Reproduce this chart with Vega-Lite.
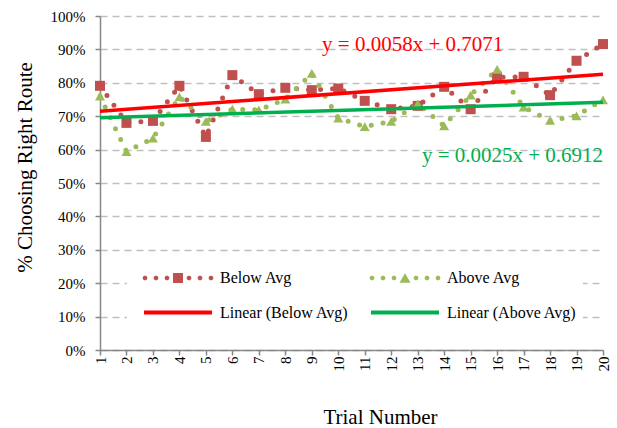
{
  "$schema": "https://vega.github.io/schema/vega-lite/v6.json",
  "width": 503,
  "height": 334,
  "autosize": "none",
  "padding": {"left": 100, "top": 16, "right": 14, "bottom": 78},
  "background": "white",
  "config": {"view": {"stroke": null}, "font": "Liberation Serif"},
  "datasets": {
    "obs": [
      {"trial": 1, "series": "Below Avg", "trend": "Linear (Below Avg)", "value": 0.791},
      {"trial": 2, "series": "Below Avg", "trend": "Linear (Below Avg)", "value": 0.680},
      {"trial": 3, "series": "Below Avg", "trend": "Linear (Below Avg)", "value": 0.686},
      {"trial": 4, "series": "Below Avg", "trend": "Linear (Below Avg)", "value": 0.791},
      {"trial": 5, "series": "Below Avg", "trend": "Linear (Below Avg)", "value": 0.638},
      {"trial": 6, "series": "Below Avg", "trend": "Linear (Below Avg)", "value": 0.823},
      {"trial": 7, "series": "Below Avg", "trend": "Linear (Below Avg)", "value": 0.766},
      {"trial": 8, "series": "Below Avg", "trend": "Linear (Below Avg)", "value": 0.785},
      {"trial": 9, "series": "Below Avg", "trend": "Linear (Below Avg)", "value": 0.778},
      {"trial": 10, "series": "Below Avg", "trend": "Linear (Below Avg)", "value": 0.783},
      {"trial": 11, "series": "Below Avg", "trend": "Linear (Below Avg)", "value": 0.746},
      {"trial": 12, "series": "Below Avg", "trend": "Linear (Below Avg)", "value": 0.721},
      {"trial": 13, "series": "Below Avg", "trend": "Linear (Below Avg)", "value": 0.731},
      {"trial": 14, "series": "Below Avg", "trend": "Linear (Below Avg)", "value": 0.788},
      {"trial": 15, "series": "Below Avg", "trend": "Linear (Below Avg)", "value": 0.721},
      {"trial": 16, "series": "Below Avg", "trend": "Linear (Below Avg)", "value": 0.816},
      {"trial": 17, "series": "Below Avg", "trend": "Linear (Below Avg)", "value": 0.818},
      {"trial": 18, "series": "Below Avg", "trend": "Linear (Below Avg)", "value": 0.763},
      {"trial": 19, "series": "Below Avg", "trend": "Linear (Below Avg)", "value": 0.866},
      {"trial": 20, "series": "Below Avg", "trend": "Linear (Below Avg)", "value": 0.916},
      {"trial": 1, "series": "Above Avg", "trend": "Linear (Above Avg)", "value": 0.760},
      {"trial": 2, "series": "Above Avg", "trend": "Linear (Above Avg)", "value": 0.594},
      {"trial": 3, "series": "Above Avg", "trend": "Linear (Above Avg)", "value": 0.634},
      {"trial": 4, "series": "Above Avg", "trend": "Linear (Above Avg)", "value": 0.758},
      {"trial": 5, "series": "Above Avg", "trend": "Linear (Above Avg)", "value": 0.684},
      {"trial": 6, "series": "Above Avg", "trend": "Linear (Above Avg)", "value": 0.721},
      {"trial": 7, "series": "Above Avg", "trend": "Linear (Above Avg)", "value": 0.719},
      {"trial": 8, "series": "Above Avg", "trend": "Linear (Above Avg)", "value": 0.751},
      {"trial": 9, "series": "Above Avg", "trend": "Linear (Above Avg)", "value": 0.828},
      {"trial": 10, "series": "Above Avg", "trend": "Linear (Above Avg)", "value": 0.694},
      {"trial": 11, "series": "Above Avg", "trend": "Linear (Above Avg)", "value": 0.669},
      {"trial": 12, "series": "Above Avg", "trend": "Linear (Above Avg)", "value": 0.684},
      {"trial": 13, "series": "Above Avg", "trend": "Linear (Above Avg)", "value": 0.737},
      {"trial": 14, "series": "Above Avg", "trend": "Linear (Above Avg)", "value": 0.671},
      {"trial": 15, "series": "Above Avg", "trend": "Linear (Above Avg)", "value": 0.763},
      {"trial": 16, "series": "Above Avg", "trend": "Linear (Above Avg)", "value": 0.840},
      {"trial": 17, "series": "Above Avg", "trend": "Linear (Above Avg)", "value": 0.727},
      {"trial": 18, "series": "Above Avg", "trend": "Linear (Above Avg)", "value": 0.687},
      {"trial": 19, "series": "Above Avg", "trend": "Linear (Above Avg)", "value": 0.701},
      {"trial": 20, "series": "Above Avg", "trend": "Linear (Above Avg)", "value": 0.749}
    ],
    "eq": [
      {"trial": 9.39, "value": 0.895, "trend": "Linear (Below Avg)", "label": "y = 0.0058x + 0.7071"},
      {"trial": 13.16, "value": 0.563, "trend": "Linear (Above Avg)", "label": "y = 0.0025x + 0.6912"}
    ]
  },
  "encoding": {
    "x": {"field": "trial", "type": "quantitative",
      "scale": {"domain": [1, 20], "nice": false, "zero": false},
      "axis": {"values": [1,2,3,4,5,6,7,8,9,10,11,12,13,14,15,16,17,18,19,20], "title": "Trial Number",
        "labelAngle": 270, "labelFontSize": 15, "labelColor": "#000000", "labelFont": "Liberation Serif",
        "labelPadding": 1, "tickSize": 5, "tickColor": "#868686", "tickWidth": 1.5,
        "domainColor": "#868686", "domainWidth": 1.5, "grid": false,
        "titleFont": "Liberation Serif", "titleFontSize": 21, "titleFontWeight": "normal", "titleColor": "#000000",
        "titleX": 280, "titleY": 73, "titleBaseline": "alphabetic", "titleAlign": "center"}},
    "y": {"field": "value", "type": "quantitative",
      "scale": {"domain": [0, 1], "nice": false},
      "axis": {"values": [0,0.1,0.2,0.3,0.4,0.5,0.6,0.7,0.8,0.9,1], "format": ".0%", "title": "% Choosing Right Route",
        "labelFontSize": 15, "labelColor": "#000000", "labelFont": "Liberation Serif", "labelPadding": 10,
        "tickSize": 5, "tickColor": "#868686", "tickWidth": 1.5,
        "domainColor": "#868686", "domainWidth": 1.5,
        "grid": true, "gridDash": [7, 5], "gridColor": "#BFBFBF", "gridWidth": 1.5,
        "titleFont": "Liberation Serif", "titleFontSize": 21, "titleFontWeight": "normal", "titleColor": "#000000",
        "titleX": -75, "titleY": 151, "titleAngle": 270, "titleBaseline": "middle", "titleAlign": "center"}}
  },
  "layer": [
    {
      "data": {"name": "obs"},
      "mark": {"type": "point", "filled": true, "opacity": 0, "size": 100, "strokeWidth": 0},
      "encoding": {
        "color": {"field": "series", "type": "nominal",
          "scale": {"domain": ["Below Avg", "Above Avg", "Linear (Below Avg)", "Linear (Above Avg)"],
                    "range": ["#C0504D", "#9BBB59", "#FF0000", "#00B050"]},
          "legend": {"title": null, "orient": "none", "direction": "horizontal", "legendX": 27, "legendY": 248, "columns": 2,
            "columnPadding": 11, "rowPadding": 18.6, "padding": 6, "fillColor": "#FFFFFF",
            "labelFont": "Liberation Serif", "labelFontSize": 16, "labelColor": "#000000", "labelLimit": 0,
            "symbolSize": 100, "symbolStrokeWidth": 0, "symbolOpacity": 1, "symbolOffset": 37, "labelOffset": 34}},
        "shape": {"field": "series", "type": "nominal",
          "scale": {"domain": ["Below Avg", "Above Avg", "Linear (Below Avg)", "Linear (Above Avg)"],
                    "range": [
                      "M-7.05,-0.19L-6.79,-0.45L-6.41,-0.45L-6.15,-0.19L-6.15,0.19L-6.41,0.45L-6.79,0.45L-7.05,0.19ZM-4.85,-0.19L-4.59,-0.45L-4.21,-0.45L-3.95,-0.19L-3.95,0.19L-4.21,0.45L-4.59,0.45L-4.85,0.19ZM-2.65,-0.19L-2.39,-0.45L-2.01,-0.45L-1.75,-0.19L-1.75,0.19L-2.01,0.45L-2.39,0.45L-2.65,0.19ZM-1,-1L1,-1L1,1L-1,1ZM1.75,-0.19L2.01,-0.45L2.39,-0.45L2.65,-0.19L2.65,0.19L2.39,0.45L2.01,0.45L1.75,0.19ZM3.95,-0.19L4.21,-0.45L4.59,-0.45L4.85,-0.19L4.85,0.19L4.59,0.45L4.21,0.45L3.95,0.19ZM6.15,-0.19L6.41,-0.45L6.79,-0.45L7.05,-0.19L7.05,0.19L6.79,0.45L6.41,0.45L6.15,0.19Z",
                      "M-7.05,-0.19L-6.79,-0.45L-6.41,-0.45L-6.15,-0.19L-6.15,0.19L-6.41,0.45L-6.79,0.45L-7.05,0.19ZM-4.85,-0.19L-4.59,-0.45L-4.21,-0.45L-3.95,-0.19L-3.95,0.19L-4.21,0.45L-4.59,0.45L-4.85,0.19ZM-2.65,-0.19L-2.39,-0.45L-2.01,-0.45L-1.75,-0.19L-1.75,0.19L-2.01,0.45L-2.39,0.45L-2.65,0.19ZM0,-0.95L1.1,0.95L-1.1,0.95ZM1.75,-0.19L2.01,-0.45L2.39,-0.45L2.65,-0.19L2.65,0.19L2.39,0.45L2.01,0.45L1.75,0.19ZM3.95,-0.19L4.21,-0.45L4.59,-0.45L4.85,-0.19L4.85,0.19L4.59,0.45L4.21,0.45L3.95,0.19ZM6.15,-0.19L6.41,-0.45L6.79,-0.45L7.05,-0.19L7.05,0.19L6.79,0.45L6.41,0.45L6.15,0.19Z",
                      "M-6.8,-0.4L6.8,-0.4L6.8,0.4L-6.8,0.4Z",
                      "M-6.8,-0.4L6.8,-0.4L6.8,0.4L-6.8,0.4Z"]},
          "legend": {"title": null, "orient": "none", "direction": "horizontal", "legendX": 27, "legendY": 248, "columns": 2,
            "columnPadding": 11, "rowPadding": 18.6, "padding": 6, "fillColor": "#FFFFFF",
            "labelFont": "Liberation Serif", "labelFontSize": 16, "labelColor": "#000000", "labelLimit": 0,
            "symbolSize": 100, "symbolStrokeWidth": 0, "symbolOpacity": 1, "symbolOffset": 37, "labelOffset": 34}}
      }
    },
    {
      "data": {"name": "obs"},
      "mark": {"type": "line", "strokeWidth": 5, "strokeDash": [0, 12], "strokeCap": "round"},
      "encoding": {
        "detail": {"field": "series", "type": "nominal"},
        "color": {"condition": {"test": "datum.series === 'Below Avg'", "value": "#C0504D"}, "value": "#9BBB59"}
      }
    },
    {
      "data": {"name": "obs"},
      "mark": {"type": "point", "filled": true, "opacity": 1, "size": 100, "strokeWidth": 0},
      "encoding": {
        "color": {"condition": {"test": "datum.series === 'Below Avg'", "value": "#C0504D"}, "value": "#9BBB59"},
        "shape": {"condition": {"test": "datum.series === 'Below Avg'", "value": "square"}, "value": "triangle-up"}
      }
    },
    {
      "data": {"name": "obs"},
      "transform": [{"regression": "value", "on": "trial", "groupby": ["trend"]}],
      "mark": {"type": "line", "strokeWidth": 3.5},
      "encoding": {
        "detail": {"field": "trend", "type": "nominal"},
        "color": {"condition": {"test": "datum.trend === 'Linear (Below Avg)'", "value": "#FF0000"}, "value": "#00B050"}
      }
    },
    {
      "data": {"name": "eq"},
      "mark": {"type": "text", "align": "left", "baseline": "alphabetic", "font": "Liberation Serif", "fontSize": 21},
      "encoding": {
        "text": {"field": "label"},
        "color": {"condition": {"test": "datum.trend === 'Linear (Below Avg)'", "value": "#FF0000"}, "value": "#00B050"}
      }
    }
  ]
}
